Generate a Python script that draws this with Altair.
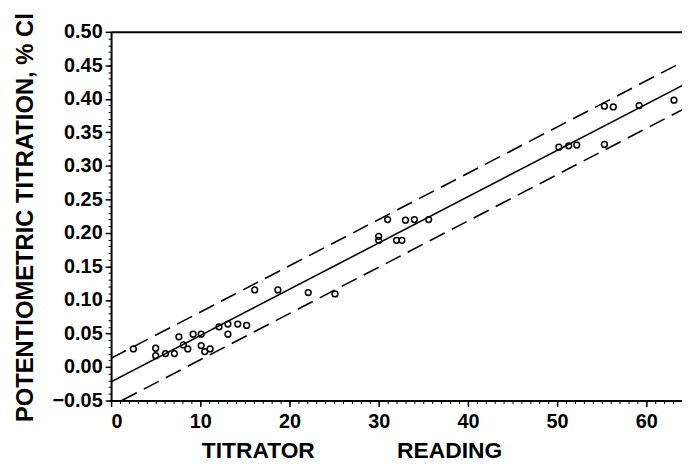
import altair as alt
import pandas as pd

# ---- data ----
reading = [2.5, 5.0, 5.0, 6.1, 7.1, 7.6, 8.1, 8.6, 9.2, 10.1, 10.1, 10.5, 11.1, 12.1, 13.1, 13.1, 14.2, 15.2, 16.1, 18.7,
           22.1, 25.1, 30.0, 30.0, 31.0, 32.0, 32.6, 33.0, 34.0, 35.6,
           50.2, 51.3, 52.2, 55.3, 55.3, 56.3, 59.2, 63.1]
percent_cl = [0.027, 0.028, 0.017, 0.020, 0.020, 0.045, 0.033, 0.027, 0.049, 0.049, 0.032, 0.023, 0.027, 0.060, 0.064,
              0.049, 0.064, 0.062, 0.115, 0.115,
              0.111, 0.109, 0.195, 0.189, 0.220, 0.189, 0.189, 0.219, 0.220, 0.220,
              0.328, 0.330, 0.331, 0.332, 0.389, 0.388, 0.390, 0.398]

fit_x = [0, 64]
fit_y = [-0.022, 0.4196]
upper_x = [0, 64]
upper_y = [0.013, 0.4546]
lower_x = [1.2, 64]
lower_y = [-0.05, 0.3836]

x_major_ticks = [0, 10, 20, 30, 40, 50, 60]
x_minor_ticks = list(range(0, 65))
y_major_ticks = [-0.05, 0.0, 0.05, 0.10, 0.15, 0.20, 0.25, 0.30, 0.35, 0.40, 0.45, 0.50]
y_minor_ticks = [round(-0.05 + 0.01 * i, 2) for i in range(56)]

x_title = "TITRATOR" + "\u00a0" * 13 + "READING"
y_title = "POTENTIOMETRIC TITRATION, % Cl"

points = pd.DataFrame({"x": reading, "y": percent_cl})
fit = pd.DataFrame({"x": fit_x, "y": fit_y})
bands = pd.DataFrame({
    "x": upper_x + lower_x,
    "y": upper_y + lower_y,
    "band": ["upper"] * len(upper_x) + ["lower"] * len(lower_x),
})

xscale = alt.Scale(domain=[0, 64], nice=False, zero=False)
yscale = alt.Scale(domain=[-0.05, 0.5], nice=False, zero=False)

FONT = "Liberation Sans"

x_major = alt.Axis(values=x_major_ticks, format="d", orient="bottom", grid=False,
                   title=x_title, titleX=91, titleY=57, titleAlign="left", titleBaseline="alphabetic",
                   titleFontSize=23, titleFontWeight="bold",
                   labelFontSize=20, labelFontWeight="bold", tickSize=6, tickWidth=1.5, labelPadding=5,
                   domainWidth=2)
y_major = alt.Axis(values=y_major_ticks, format=".2f", orient="left", grid=False,
                   title=y_title, titleX=-79, titleY=187, titleAngle=-90, titleAlign="center",
                   titleBaseline="alphabetic", titleFontSize=24, titleFontWeight="bold",
                   labelFontSize=20, labelFontWeight="bold", tickSize=6, tickWidth=1.5, labelPadding=3,
                   domainWidth=2)
x_minor = alt.Axis(values=x_minor_ticks, orient="bottom", grid=False, labels=False, domain=False,
                   title=None, tickSize=3, tickWidth=1)
y_minor = alt.Axis(values=y_minor_ticks, orient="left", grid=False, labels=False, domain=False,
                   title=None, tickSize=3, tickWidth=1)
x_top = alt.Axis(orient="top", grid=False, labels=False, ticks=False, domain=True, title=None,
                 domainWidth=2)

pts = alt.Chart(points).mark_point(shape="circle", filled=False, size=34, strokeWidth=1.5,
                                   color="black", opacity=1).encode(
    x=alt.X("x:Q", scale=xscale, axis=x_major),
    y=alt.Y("y:Q", scale=yscale, axis=y_major),
)

fit_line = alt.Chart(fit).mark_line(color="black", strokeWidth=1.6, clip=True).encode(
    x=alt.X("x:Q", scale=xscale, axis=x_minor),
    y=alt.Y("y:Q", scale=yscale, axis=y_minor),
)

band_lines = alt.Chart(bands).mark_line(color="black", strokeWidth=1.6, strokeDash=[17, 8],
                                        clip=True).encode(
    x=alt.X("x:Q", scale=xscale, axis=x_top),
    y=alt.Y("y:Q", scale=yscale, axis=None),
    detail="band:N",
)

chart = alt.layer(band_lines, fit_line, pts).resolve_axis(
    x="independent", y="independent"
).properties(
    width=576,
    height=372,
    autosize=alt.AutoSizeParams(type="none"),
    padding={"left": 104, "top": 22, "right": 0, "bottom": 64},
    background="white",
).configure_view(stroke=None).configure_axis(
    labelFont=FONT, titleFont=FONT, labelColor="black", titleColor="black",
    tickColor="black", domainColor="black",
)

chart.save("out.html", embed_options={"renderer": "svg", "actions": False})
